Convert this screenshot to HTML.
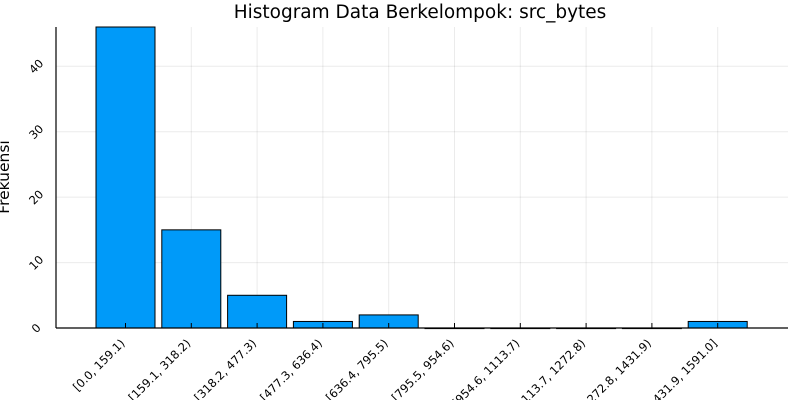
<!DOCTYPE html>
<html><head><meta charset="utf-8"><style>
body{margin:0;background:#fff;}
svg{display:block;font-family:"DejaVu Sans","Liberation Sans",sans-serif;}
</style></head><body>
<svg id="chart" width="800" height="400">
<text x="420" y="18" text-anchor="middle" font-size="18.5" fill="#000">Histogram Data Berkelompok: src_bytes</text>
<text transform="translate(9,177) rotate(-90)" text-anchor="middle" font-size="15.5" fill="#000">Frekuensi</text>
<g id="grid"></g><g id="bars"></g><g id="axes"></g>
</svg>
<script>
const categories=["[0.0, 159.1)","[159.1, 318.2)","[318.2, 477.3)","[477.3, 636.4)","[636.4, 795.5)","[795.5, 954.6)","[954.6, 1113.7)","[1113.7, 1272.8)","[1272.8, 1431.9)","[1431.9, 1591.0]"];
const counts=[46,15,5,1,2,0,0,0,0,1];
const yTicks=[0,10,20,30,40];
const NS="http://www.w3.org/2000/svg";
const L=56,R=788,T=27,B=328;
const yMax=46;
function y(v){return B-v*(B-T)/yMax;}
const step=65.8, x0=125.5;
function x(i){return x0+i*step;}
const bw=59;
function mk(tag,attrs,parent){const e=document.createElementNS(NS,tag);for(const k in attrs)e.setAttribute(k,attrs[k]);parent.appendChild(e);return e;}
const grid=document.getElementById('grid'),bars=document.getElementById('bars'),axes=document.getElementById('axes');
yTicks.forEach(t=>{
  const g=mk('line',{x1:L,x2:R,y1:y(t),y2:y(t),stroke:'#000','stroke-opacity':0.08,'stroke-width':1},grid);
  
  
  const tx=mk('text',{x:0,y:0,'font-size':11.5,'text-anchor':'middle',transform:`translate(39,${y(t)+3}) rotate(-45)`},axes);
  tx.textContent=t;
  
  
});
categories.forEach((c,i)=>{
  const g=mk('line',{x1:x(i),x2:x(i),y1:T,y2:B,stroke:'#000','stroke-opacity':0.08,'stroke-width':1},grid);
  
  
  const r=mk('rect',{x:x(i)-bw/2,y:y(counts[i]),width:bw,height:Math.max(B-y(counts[i]),0.6),fill:'#009af9',stroke:'#000','stroke-width':1},bars);
  
  
  const tk=mk('line',{x1:x(i),x2:x(i),y1:B,y2:B-5,stroke:'#000','stroke-width':1},axes);
  
  
  const tx=mk('text',{x:0,y:0,'font-size':11.5,'text-anchor':'end',transform:`translate(${x(i)},${B+16}) rotate(-45)`},axes);
  tx.textContent=c;
  
  
});
const xa=mk('line',{x1:L,x2:R,y1:B,y2:B,stroke:'#000','stroke-width':1.2},axes);


const ya=mk('line',{x1:L,x2:L,y1:T,y2:B,stroke:'#000','stroke-width':1.2},axes);


</script>
</body></html>
